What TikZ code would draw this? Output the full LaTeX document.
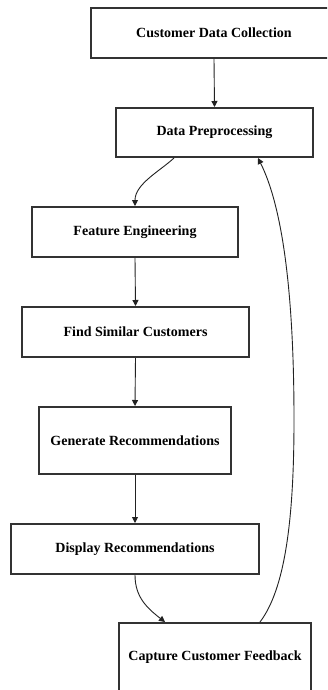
\documentclass[tikz,border=0pt]{standalone}
\usepackage{fontspec}
\setmainfont{Liberation Serif}
\usetikzlibrary{arrows.meta}
\definecolor{boxline}{HTML}{333333}
\definecolor{arrline}{HTML}{222222}
\tikzset{
  flowbox/.style={draw=boxline, line width=2pt, rectangle, inner sep=0pt,
    font=\fontsize{14}{16}\selectfont\bfseries, text=black},
  flowarrow/.style={draw=arrline, line width=0.9pt, -{Triangle[length=6pt,width=6pt]}}
}
\begin{document}
\begin{tikzpicture}[x=1pt,y=-1pt]
\useasboundingbox (0,0) rectangle (327,690);
\clip (0,0) rectangle (327,690);
\fill[white] (0,0) rectangle (327,690);
\node[flowbox, minimum width=246pt, minimum height=50pt] (n1) at (214,33) {Customer Data Collection};
\node[flowbox, minimum width=197pt, minimum height=49pt] (n2) at (214.5,132.5) {Data Preprocessing};
\node[flowbox, minimum width=206pt, minimum height=50pt] (n3) at (135,232) {Feature Engineering};
\node[flowbox, minimum width=227pt, minimum height=50pt] (n4) at (135.5,332) {Find Similar Customers};
\node[flowbox, minimum width=192pt, minimum height=67pt] (n5) at (135,440.5) {Generate Recommendations};
\node[flowbox, minimum width=248pt, minimum height=50pt] (n6) at (135,549) {Display Recommendations};
\node[flowbox, minimum width=192pt, minimum height=68pt] (n7) at (215,657) {Capture Customer Feedback};
\coordinate (fb) at (294,420);
\draw[flowarrow] (n1.south) -- (n2.north);
\draw[flowarrow] ([xshift=-40.5pt]n2.south) .. controls +(-14,13) and +(0,-22) .. (n3.north);
\draw[flowarrow] (n3.south) -- (n4.north);
\draw[flowarrow] (n4.south) -- (n5.north);
\draw[flowarrow] (n5.south) -- (n6.north);
\draw[flowarrow] (n6.south) .. controls +(0,22) and +(-18,-14) .. ([xshift=-50pt]n7.north);
\draw[flowarrow] ([xshift=45pt]n7.north) .. controls +(25,-33) and (294,520) .. (fb) .. controls (294,290) and +(24,48) .. ([xshift=43.5pt]n2.south);
\end{tikzpicture}
\end{document}
